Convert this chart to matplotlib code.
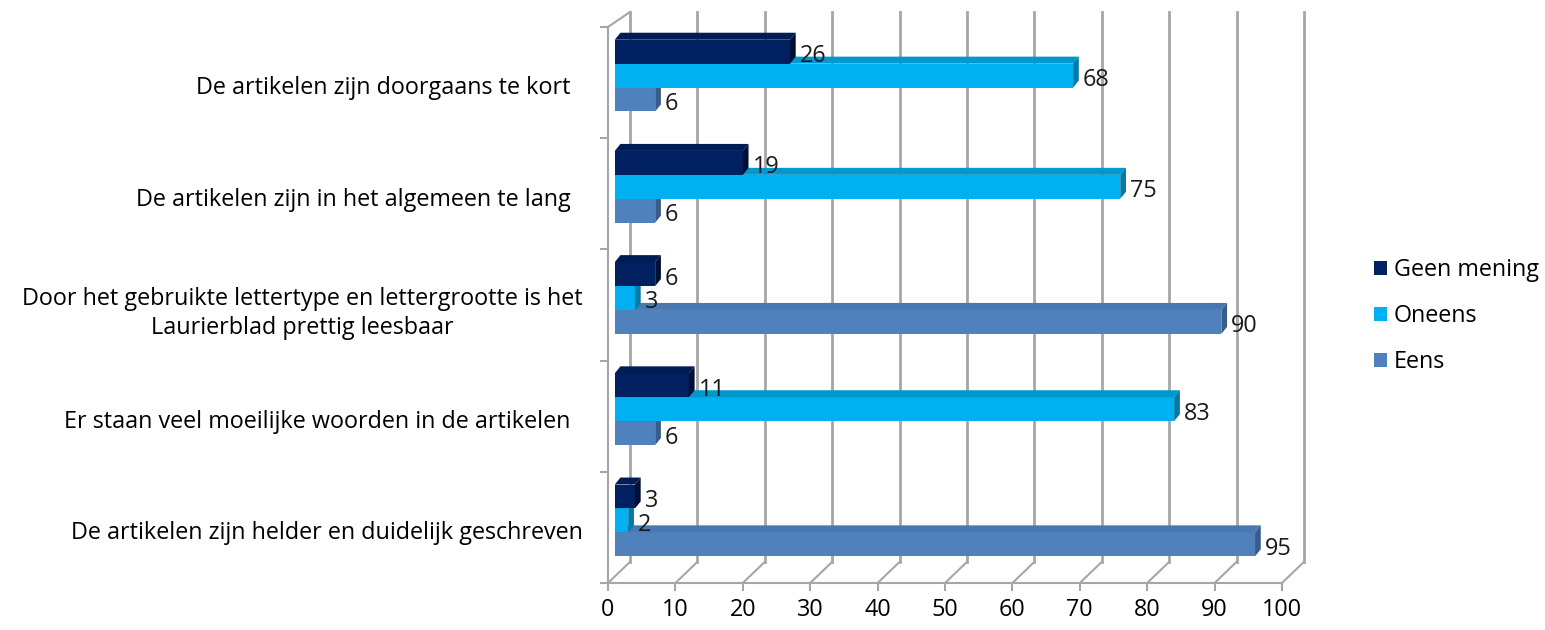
import numpy as np
import matplotlib
matplotlib.use("Agg")
import matplotlib.pyplot as plt
from matplotlib.patches import Polygon, Patch

# data (bottom category first)
categories = [
    "De artikelen zijn helder en duidelijk geschreven",
    "Er staan veel moeilijke woorden in de artikelen  ",
    "Door het gebruikte lettertype en lettergrootte is het\nLaurierblad prettig leesbaar",
    "De artikelen zijn in het algemeen te lang  ",
    "De artikelen zijn doorgaans te kort  ",
]
eens = [95, 6, 90, 6, 6]
oneens = [2, 83, 3, 75, 68]
geen_mening = [3, 11, 6, 19, 26]
series_names = ["Eens", "Oneens", "Geen mening"]
ticks = list(range(0, 101, 10))

# colours: front, top, side
colors = {
    "Eens": ("#4F81BD", "#4A78B0", "#385D8A"),
    "Oneens": ("#00B0F0", "#0098CF", "#007AA6"),
    "Geen mening": ("#002060", "#001C55", "#001035"),
}
grid_col = "#A6A6A6"
fs = 16.8

plt.rcParams['font.family'] = ['Open Sans', 'DejaVu Sans']

fig = plt.figure(figsize=(15.45, 6.3), dpi=100)
ax = fig.add_axes([608 / 1545, 47 / 630, 674 / 1545, 556 / 630])
ax.set_xlim(0, 100)
ax.set_ylim(-0.5, len(categories) - 0.5)

# 3d geometry (in data units)
back_dx, back_dy_bot, back_dy_top = 3.26, 0.19, 0.135
bar_ox, bar_oy = 1.0, 0.063      # bars sit a bit behind the front plane
depth_dx, depth_dy = 0.85, 0.063  # bar depth (top / side faces)
bar_h = 0.215

y = np.arange(len(categories))
ybot, ytop = -0.5, len(categories) - 0.5

# back wall grid lines + floor diagonals
for t in ticks:
    ax.plot([t + back_dx, t + back_dx], [ybot + back_dy_bot, ytop + back_dy_top],
            color=grid_col, lw=2, clip_on=False, zorder=0.5)
    ax.plot([t, t + back_dx], [ybot, ybot + back_dy_bot],
            color=grid_col, lw=1.5, clip_on=False, zorder=0.5)
# left wall top edge
ax.plot([0, back_dx], [ytop, ytop + back_dy_top], color=grid_col, lw=1.5,
        clip_on=False, zorder=0.5)

# bars
offsets = {"Eens": -bar_h, "Oneens": 0.0, "Geen mening": bar_h}
values = {"Eens": eens, "Oneens": oneens, "Geen mening": geen_mening}
for z, name in enumerate(series_names):
    front, topc, sidec = colors[name]
    vals = values[name]
    yc = y + offsets[name] + bar_oy
    ax.barh(yc, vals, height=bar_h, left=bar_ox, color=front,
            zorder=2 + z, label=name, linewidth=0)
    for yi, v in zip(yc, vals):
        x0, x1 = bar_ox, bar_ox + v
        y0, y1 = yi - bar_h / 2, yi + bar_h / 2
        top = Polygon([(x0, y1), (x1, y1), (x1 + depth_dx, y1 + depth_dy),
                       (x0 + depth_dx, y1 + depth_dy)], closed=True,
                      facecolor=topc, edgecolor='none', zorder=2 + z)
        side = Polygon([(x1, y0), (x1, y1), (x1 + depth_dx, y1 + depth_dy),
                        (x1 + depth_dx, y0 + depth_dy)], closed=True,
                       facecolor=sidec, edgecolor='none', zorder=2 + z)
        ax.add_patch(top)
        ax.add_patch(side)
        ax.text(x1 + depth_dx + 0.6, yi - 0.04, str(v), ha='left', va='center',
                fontsize=fs, color='#1a1a1a', zorder=10)

# axes styling
for s in ["top", "right"]:
    ax.spines[s].set_visible(False)
for s in ["left", "bottom"]:
    ax.spines[s].set_color(grid_col)
    ax.spines[s].set_linewidth(1.5)
ax.set_facecolor('none')

ax.set_xticks(ticks)
ax.tick_params(axis='x', direction='out', length=6, width=1.5, color=grid_col,
               labelsize=fs, pad=5)
ax.set_yticks(y - 0.025)
ax.set_yticklabels(categories)
ax.set_yticks(np.arange(-0.5, len(categories)), minor=True)
ax.tick_params(axis='y', which='major', length=0, pad=18, labelsize=fs)
ax.tick_params(axis='y', which='minor', direction='out', length=6, width=1.5,
               color=grid_col)
for lab in ax.get_yticklabels():
    lab.set_multialignment('center')
    lab.set_linespacing(1.3)

handles = [Patch(facecolor=colors[n][0]) for n in reversed(series_names)]
fig.legend(handles, list(reversed(series_names)), loc='center left',
           bbox_to_anchor=(1353 / 1545, 1 - 316 / 630), frameon=False,
           fontsize=fs, handlelength=0.55, handleheight=0.55,
           handletextpad=0.3, labelspacing=0.95)

fig.savefig("out.png", dpi=100)
